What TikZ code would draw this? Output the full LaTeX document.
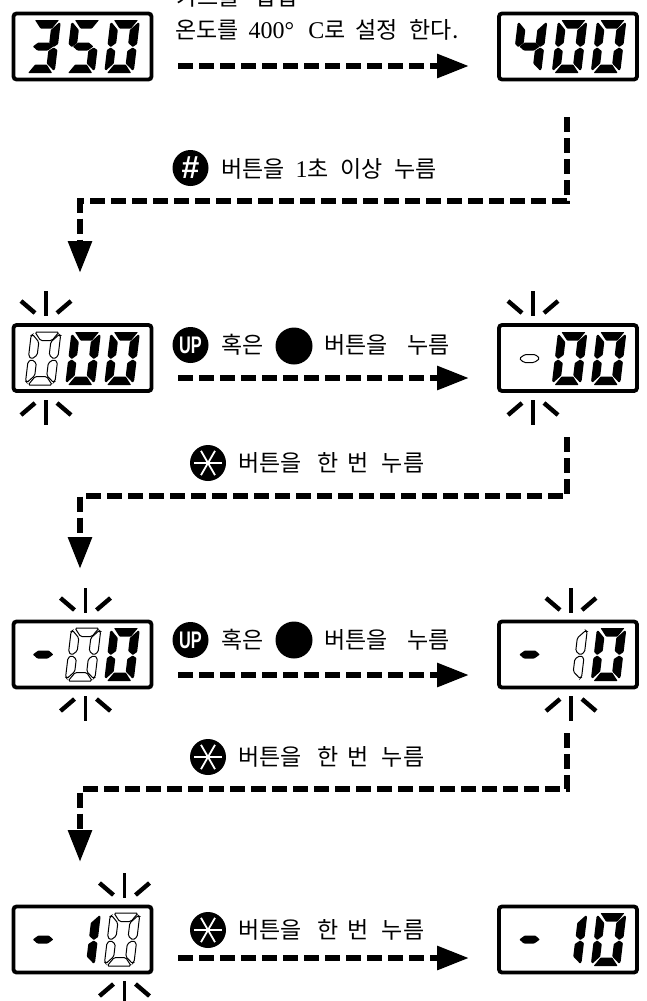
\documentclass[tikz,border=0pt]{standalone}
\usepackage{fontspec}
\setmainfont{Liberation Serif}
\newfontfamily\ko{Noto Sans CJK KR}
\newfontfamily\lab{Liberation Sans}
\usetikzlibrary{arrows.meta}
\newcommand{\gap}[1]{\hspace{#1pt}}
\newcommand{\lat}[1]{{\normalfont\fontsize{24pt}{24pt}\selectfont #1}}
\tikzset{
  lcd/.style={draw,line width=3.8pt,rounded corners=3pt,minimum width=138pt,minimum height=66pt,inner sep=0pt,outer sep=0pt},
  flow/.style={line width=6pt,dash pattern=on 15pt off 6pt,-{Triangle[length=32pt,width=23pt]}},
  ray/.style={line width=3.6pt},
  sideray/.style={line width=4.4pt},
  segon/.style={fill=black,rounded corners=.7pt},
  segoff/.style={draw=black,fill=white,line width=1pt,rounded corners=1.5pt},
  btn/.style={circle,fill=black,minimum size=36pt,inner sep=0pt,text=white},
  txt/.style={anchor=west,inner sep=0pt,font=\ko\fontsize{23pt}{24pt}\selectfont},
  arm/.style={draw=white,line width=1.8pt}
}
\newcommand{\sega}[1]{\path[#1] (3.5,0)--(27.5,0)--(21.5,8.5)--(10,8.5)--cycle;}
\newcommand{\segb}[1]{\path[#1] (29.5,3.5)--(28,2.5)--(20.5,10)--(20.5,23)--(25.5,27)--(29.5,24)--cycle;}
\newcommand{\segc}[1]{\path[#1] (29.5,30)--(25.5,27.5)--(20.5,31)--(20.5,43.5)--(28,50.5)--(29.5,49)--cycle;}
\newcommand{\segd}[1]{\path[#1] (9,44.5)--(20.5,44.5)--(27,53)--(3,53)--cycle;}
\newcommand{\sege}[1]{\path[#1] (0,30)--(3.5,27.5)--(8.5,31)--(8.5,43.5)--(1.5,50.5)--(0,49)--cycle;}
\newcommand{\segf}[1]{\path[#1] (0,3.5)--(1.5,2.5)--(8.5,10)--(8.5,23)--(3.5,27)--(0,24)--cycle;}
\newcommand{\segg}[1]{\path[#1] (4.5,26.5)--(9.5,22.5)--(20,22.5)--(25,26.5)--(20,30.5)--(9.5,30.5)--cycle;}
\newcommand{\segz}[1]{}
% \dg{x}{y}{lit segments}{outlined segments}
\newcommand{\dg}[4]{\begin{scope}[shift={(#1,#2)},xslant=.12]
  \foreach \s in {#3}{\csname seg\s\endcsname{segon}}
  \foreach \s in {#4}{\csname seg\s\endcsname{segoff}}
\end{scope}}
% \rays{cx}{box top}{box bottom}
\newcommand{\rays}[3]{
  \draw[ray] (#1,#2-32)--(#1,#2-7);
  \draw[sideray] (#1-25,#2-22)--(#1-11,#2-10);
  \draw[sideray] (#1+25,#2-22)--(#1+11,#2-10);
  \draw[ray] (#1,#3+7)--(#1,#3+32);
  \draw[sideray] (#1-25,#3+22)--(#1-11,#3+10);
  \draw[sideray] (#1+25,#3+22)--(#1+11,#3+10);
}
% \asterbtn{name}{x}{y}
\newcommand{\asterbtn}[3]{
  \node[btn] (#1) at (#2,#3) {};
  \foreach \a in {0,60,120}{\draw[arm] (#1.center)+(\a:14pt) -- +(\a+180:14pt);}
}
\begin{document}
\begin{tikzpicture}[x=1pt,y=-1pt]
\useasboundingbox (0,0) rectangle (647,1001);
\clip (0,0) rectangle (647,1001);
% displays
\node[lcd] (b1l) at (82.5,46.5) {};
\node[lcd] (b1r) at (568,46.5) {};
\node[lcd] (b2l) at (82.5,358) {};
\node[lcd] (b2r) at (568,358) {};
\node[lcd] (b3l) at (82.5,654.5) {};
\node[lcd] (b3r) at (568,654.5) {};
\node[lcd] (b4l) at (82.5,939.5) {};
\node[lcd] (b4r) at (568,939.5) {};
% row 1: 350 -> 400
\dg{31.5}{20}{a,b,c,d,g}{z}\dg{71.5}{20}{a,c,d,f,g}{z}\dg{110.5}{20}{a,b,c,d,e,f}{z}
\dg{518}{20}{b,c,f,g}{z}\dg{558}{20}{a,b,c,d,e,f}{z}\dg{597}{20}{a,b,c,d,e,f}{z}
% row 2
\dg{31.5}{332}{z}{a,b,c,d,e,f}\dg{71.5}{332}{a,b,c,d,e,f}{z}\dg{110.5}{332}{a,b,c,d,e,f}{z}
\dg{518}{332}{z}{g}\dg{558}{332}{a,b,c,d,e,f}{z}\dg{597}{332}{a,b,c,d,e,f}{z}
% row 3
\dg{31.5}{628}{g}{z}\dg{71.5}{628}{z}{a,b,c,d,e,f}\dg{110.5}{628}{a,b,c,d,e,f}{z}
\dg{518}{628}{g}{z}\dg{558}{628}{z}{b,c}\dg{597}{628}{a,b,c,d,e,f}{z}
% row 4
\dg{31.5}{913}{g}{z}\dg{71.5}{913}{b,c}{z}\dg{110.5}{913}{z}{a,b,c,d,e,f}
\dg{518}{913}{g}{z}\dg{558}{913}{b,c}{z}\dg{597}{913}{a,b,c,d,e,f}{z}
% blink rays
\rays{46}{323}{393}
\rays{533}{323}{393}
\rays{85.5}{620}{689}
\rays{571}{620}{689}
\rays{124.5}{905}{974}
% labels row 1
\node[txt] (t0) at (176,-3) {카드를\gap{16}삽입};
\node[txt] (t1) at (175,30) {온도를\gap{10}\lat{400°}\gap{14}\lat{C}로\gap{10}설정\gap{12}한다.};
% connector 1 label
\node[btn,font=\lab\bfseries\fontsize{32pt}{32pt}\selectfont] (i1) at (190.5,168) {\#};
\node[txt] (t2) at (221,169) {버튼을\gap{11}\lat{1}초\gap{12}이상\gap{11}누름};
% row 2 labels
\node[btn,font=\lab\bfseries\fontsize{24pt}{24pt}\selectfont] (i2) at (190.5,345) {\scalebox{.68}[1]{UP}};
\node[txt] (t3a) at (221,345) {혹은};
\node[circle,fill=black,minimum size=37pt,inner sep=0pt] (i3) at (294,346) {};
\node[txt] (t3b) at (324,345) {버튼을\gap{20}누름};
% connector 2 label
\asterbtn{i4}{208}{463}
\node[txt] (t4) at (238,463) {버튼을\gap{16}한\gap{9}번\gap{13}누름};
% row 3 labels
\node[btn,font=\lab\bfseries\fontsize{24pt}{24pt}\selectfont] (i5) at (190.5,640) {\scalebox{.68}[1]{UP}};
\node[txt] (t5a) at (221,640) {혹은};
\node[circle,fill=black,minimum size=37pt,inner sep=0pt] (i6) at (294,640) {};
\node[txt] (t5b) at (324,640) {버튼을\gap{20}누름};
% connector 2 label
\asterbtn{i7}{208}{757}
\node[txt] (t6) at (238,757) {버튼을\gap{16}한\gap{9}번\gap{13}누름};
% row 4 label
\asterbtn{i8}{208}{930}
\node[txt] (t7) at (238,930) {버튼을\gap{16}한\gap{9}번\gap{13}누름};
% horizontal arrows
\coordinate (a1s) at (178,66);\coordinate (a1e) at (469,66);
\coordinate (a2s) at (178,378);\coordinate (a2e) at (469,378);
\coordinate (a3s) at (178,675);\coordinate (a3e) at (469,675);
\coordinate (a4s) at (178,958);\coordinate (a4e) at (469,958);
\draw[flow] (a1s)--(a1e);
\draw[flow] (a2s)--(a2e);
\draw[flow] (a3s)--(a3e);
\draw[flow] (a4s)--(a4e);
% elbow connectors
\coordinate (c1s) at (566.5,117);\coordinate (c1m) at (566.5,201);\coordinate (c1n) at (80,201);\coordinate (c1e) at (80,273);
\coordinate (c2s) at (566.5,437);\coordinate (c2m) at (566.5,496);\coordinate (c2n) at (80,496);\coordinate (c2e) at (80,569);
\coordinate (c3s) at (566.5,733);\coordinate (c3m) at (566.5,789);\coordinate (c3n) at (80,789);\coordinate (c3e) at (80,862);
\draw[flow] (c1s)--(c1m)--(c1n)--(c1e);
\draw[flow] (c2s)--(c2m)--(c2n)--(c2e);
\draw[flow] (c3s)--(c3m)--(c3n)--(c3e);
\end{tikzpicture}
\end{document}
